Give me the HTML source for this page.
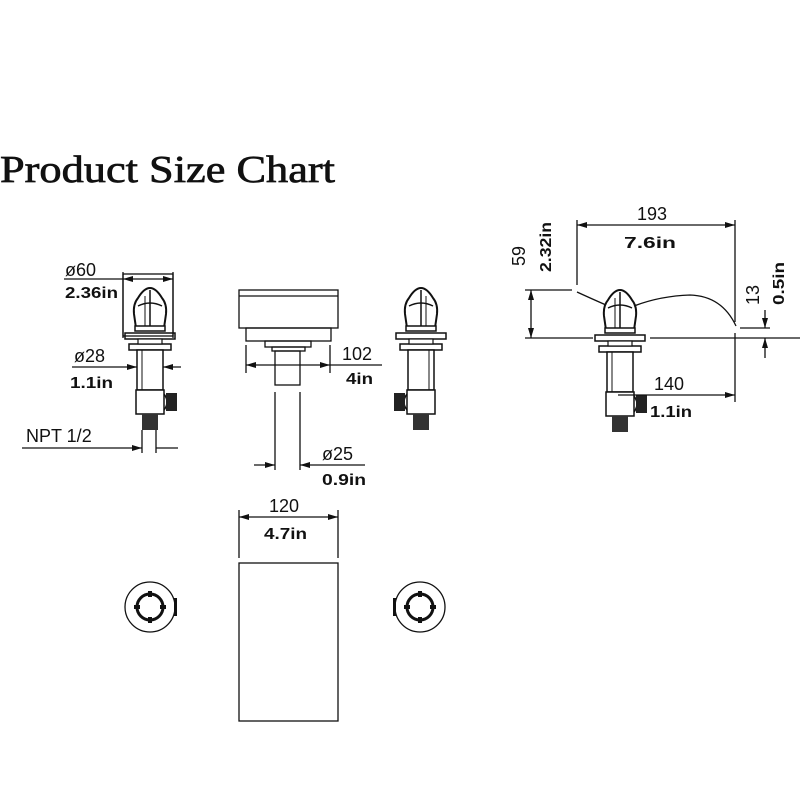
<!DOCTYPE html>
<html><head><meta charset="utf-8"><style>
html,body{margin:0;padding:0;background:#fff;}
svg{display:block}
.t{font-family:"Liberation Sans",sans-serif;font-size:18px;fill:#111}
.b{font-family:"Liberation Sans",sans-serif;font-size:16px;font-weight:bold;fill:#111}
</style></head><body>
<svg width="800" height="800" viewBox="0 0 800 800" xmlns="http://www.w3.org/2000/svg">
<defs>
<marker id="a" viewBox="0 0 10 6" refX="10" refY="3" markerWidth="10" markerHeight="6" orient="auto-start-reverse" markerUnits="userSpaceOnUse"><path d="M0,0 L10,3 L0,6z" fill="#111"/></marker>
<g id="fau">
  <path d="M-14,32 L-16,18 Q-17,8 -12,2 Q-6,-8 0,-8 Q6,-8 12,2 Q17,8 16,18 L14,32 Z" fill="#fff" stroke="#111" stroke-width="2"/>
  <path d="M-12,10 Q0,4 12,10" fill="none" stroke="#111" stroke-width="1.5"/>
  <line x1="0" y1="-6" x2="0" y2="30" stroke="#111" stroke-width="1.5"/>
  <line x1="-5" y1="0" x2="-5" y2="30" stroke="#111" stroke-width="1"/>
  <rect x="-15" y="30" width="30" height="5" fill="#fff" stroke="#111" stroke-width="1.5"/>
  <rect x="-25" y="37" width="50" height="6" fill="#fff" stroke="#111" stroke-width="1.5"/>
  <rect x="-21" y="48" width="42" height="6" fill="#fff" stroke="#111" stroke-width="1.5"/>
  <rect x="-12" y="43" width="24" height="5" fill="#fff" stroke="#111" stroke-width="1.2"/>
  <rect x="-13" y="54" width="26" height="40" fill="#fff" stroke="#111" stroke-width="1.5"/>
  <line x1="-8" y1="54" x2="-8" y2="94" stroke="#111" stroke-width="1"/>
  <rect x="-14" y="94" width="28" height="24" fill="#fff" stroke="#111" stroke-width="1.5"/>
  <path d="M14,98 Q20,106 14,114" fill="none" stroke="#111" stroke-width="1.5"/>
  <rect x="16" y="97" width="11" height="18" fill="#222"/>
  <rect x="-8" y="118" width="16" height="16" fill="#333"/>
</g>
</defs>

<text x="0" y="182" font-family="Liberation Serif, serif" font-size="38" textLength="335" lengthAdjust="spacingAndGlyphs" fill="#111" stroke="#111" stroke-width="0.7">Product Size Chart</text>

<g stroke="#111" stroke-width="1.3" fill="none">
<use href="#fau" transform="translate(150,296)" stroke="none"/>
<rect x="123" y="274" width="50" height="62"/>
<line x1="64" y1="279" x2="123" y2="279"/>
<line x1="123" y1="279" x2="173" y2="279" marker-start="url(#a)" marker-end="url(#a)"/>
<line x1="123" y1="272" x2="123" y2="338"/><line x1="173" y1="272" x2="173" y2="338"/>
<line x1="72" y1="367" x2="137" y2="367" marker-end="url(#a)"/>
<line x1="181" y1="367" x2="163" y2="367" marker-end="url(#a)"/>
<line x1="22" y1="448" x2="142" y2="448" marker-end="url(#a)"/>
<line x1="178" y1="448" x2="156" y2="448"/>
<line x1="142" y1="430" x2="142" y2="453"/><line x1="156" y1="430" x2="156" y2="453"/>

<rect x="239" y="290" width="99" height="38"/>
<line x1="239" y1="296" x2="338" y2="296"/>
<rect x="246" y="328" width="85" height="13"/>
<rect x="265" y="341" width="46" height="6"/>
<rect x="272" y="347" width="33" height="4"/>
<rect x="275" y="351" width="25" height="34"/>
<line x1="246" y1="345" x2="246" y2="373"/><line x1="330" y1="345" x2="330" y2="373"/>
<line x1="246" y1="365" x2="330" y2="365" marker-start="url(#a)" marker-end="url(#a)"/>
<line x1="330" y1="365" x2="382" y2="365"/>
<line x1="275" y1="392" x2="275" y2="470"/><line x1="300" y1="392" x2="300" y2="470"/>
<line x1="254" y1="465" x2="275" y2="465" marker-end="url(#a)"/>
<line x1="365" y1="465" x2="300" y2="465" marker-end="url(#a)"/>

<use href="#fau" transform="translate(421,296) scale(-1,1)" stroke="none"/>

<use href="#fau" transform="translate(620,298)" stroke="none"/>
<path d="M577,292 Q590,298 606,305"/>
<path d="M634,306 Q660,296 690,295 Q722,296 736,326"/>
<line x1="577" y1="220" x2="577" y2="285"/>
<line x1="735" y1="220" x2="735" y2="322"/>
<line x1="735" y1="333" x2="735" y2="402"/>
<line x1="577" y1="225" x2="735" y2="225" marker-start="url(#a)" marker-end="url(#a)"/>
<line x1="525" y1="290" x2="572" y2="290"/>
<line x1="525" y1="338" x2="593" y2="338"/>
<line x1="650" y1="338" x2="800" y2="338"/>
<line x1="531" y1="290" x2="531" y2="338" marker-start="url(#a)" marker-end="url(#a)"/>
<line x1="740" y1="328" x2="770" y2="328"/>
<line x1="765" y1="310" x2="765" y2="328" marker-end="url(#a)"/>
<line x1="765" y1="358" x2="765" y2="338" marker-end="url(#a)"/>
<line x1="618" y1="395" x2="735" y2="395" marker-end="url(#a)"/>

<rect x="239" y="563" width="99" height="158"/>
<line x1="239" y1="510" x2="239" y2="558"/><line x1="338" y1="510" x2="338" y2="558"/>
<line x1="239" y1="517" x2="338" y2="517" marker-start="url(#a)" marker-end="url(#a)"/>
<circle cx="150" cy="607" r="25"/>
<circle cx="150" cy="607" r="13" stroke-width="3"/>
<circle cx="420" cy="607" r="25"/>
<circle cx="420" cy="607" r="13" stroke-width="3"/>
</g>
<g fill="#111">
<rect x="148" y="591" width="4" height="6"/><rect x="148" y="617" width="4" height="6"/><rect x="134" y="605" width="6" height="4"/><rect x="160" y="605" width="6" height="4"/>
<rect x="174" y="598" width="3" height="18"/>
<rect x="418" y="591" width="4" height="6"/><rect x="418" y="617" width="4" height="6"/><rect x="404" y="605" width="6" height="4"/><rect x="430" y="605" width="6" height="4"/>
<rect x="393" y="598" width="3" height="18"/>
</g>

<text class="t" x="65" y="276">ø60</text>
<text class="b" x="65" y="298" textLength="53" lengthAdjust="spacingAndGlyphs">2.36in</text>
<text class="t" x="74" y="362">ø28</text>
<text class="b" x="70" y="388" textLength="43" lengthAdjust="spacingAndGlyphs">1.1in</text>
<text class="t" x="26" y="442">NPT 1/2</text>
<text class="t" x="342" y="360">102</text>
<text class="b" x="346" y="384" textLength="27" lengthAdjust="spacingAndGlyphs">4in</text>
<text class="t" x="322" y="460">ø25</text>
<text class="b" x="322" y="485" textLength="44" lengthAdjust="spacingAndGlyphs">0.9in</text>
<text class="t" x="637" y="220">193</text>
<text class="b" x="624" y="248" textLength="52" lengthAdjust="spacingAndGlyphs">7.6in</text>
<text class="t" x="654" y="390">140</text>
<text class="b" x="650" y="417" textLength="42" lengthAdjust="spacingAndGlyphs">1.1in</text>
<text class="t" x="269" y="512">120</text>
<text class="b" x="264" y="539" textLength="43" lengthAdjust="spacingAndGlyphs">4.7in</text>
<text class="t" transform="translate(525,266) rotate(-90)">59</text>
<text class="b" transform="translate(551,272) rotate(-90)" textLength="50" lengthAdjust="spacingAndGlyphs">2.32in</text>
<text class="t" transform="translate(759,305) rotate(-90)">13</text>
<text class="b" transform="translate(784,305) rotate(-90)" textLength="43" lengthAdjust="spacingAndGlyphs">0.5in</text>
</svg>
</body></html>
